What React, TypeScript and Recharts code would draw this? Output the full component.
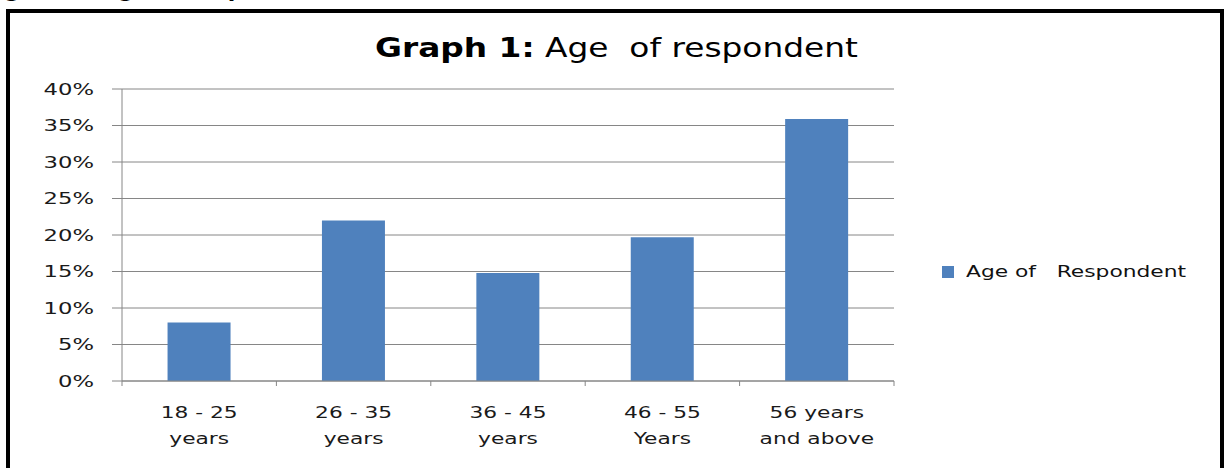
import React from "react";
import { BarChart, Bar, XAxis, YAxis, CartesianGrid, Legend } from "recharts";

// age groups (x categories) and the share of respondents in each, in %
const ageGroups = ["18 - 25 years", "26 - 35 years", "36 - 45 years", "46 - 55 Years", "56 years and above"];
const tickLines = [
  ["18 - 25", "years"],
  ["26 - 35", "years"],
  ["36 - 45", "years"],
  ["46 - 55", "Years"],
  ["56 years", "and above"],
];
const respondentShare = [8, 22, 14.8, 19.7, 35.9];
const yTicks = [0, 5, 10, 15, 20, 25, 30, 35, 40];

const seriesName = "Age of   Respondent";

const data = ageGroups.map((name, i) => ({ name, value: respondentShare[i] }));

const W = 1225;
const H = 468;
const MARGIN = { top: 89, right: 331, bottom: 27, left: 22 };
const Y_AXIS_W = 100;
const X_AXIS_H = 60;
const BAND = (W - MARGIN.left - Y_AXIS_W - MARGIN.right) / ageGroups.length;

const FONT = "'DejaVu Sans', Verdana, sans-serif";
const GRID = "#868686";
const BLUE = "#4F81BD";

function YTick({ x, y, payload }: any) {
  return (
    <g transform={`translate(${x},${y}) scale(1.42,1)`}>
      <text x={0} y={0} dy="0.36em" textAnchor="end" fontSize={16} fontFamily={FONT} fill="#1a1a1a">
        {payload.value}%
      </text>
    </g>
  );
}

function XTick({ x, y, index }: any) {
  const lines = tickLines[index] || [];
  const left = x - BAND / 2;
  const right = x + BAND / 2;
  return (
    <g>
      <line x1={left} y1={y} x2={left} y2={y + 5} stroke={GRID} />
      {index === ageGroups.length - 1 && <line x1={right} y1={y} x2={right} y2={y + 5} stroke={GRID} />}
      {lines.map((t, i) => (
        <g key={i} transform={`translate(${x},${y + 37 + i * 26}) scale(1.36,1)`}>
          <text x={0} y={0} textAnchor="middle" fontSize={16} fontFamily={FONT} fill="#1a1a1a">
            {t}
          </text>
        </g>
      ))}
    </g>
  );
}

function LegendBox({ payload }: any) {
  const item = payload && payload[0];
  return (
    <div style={{ display: "flex", alignItems: "center", fontFamily: FONT }}>
      <span style={{ width: 12, height: 12, background: item ? item.color : BLUE, display: "inline-block", marginRight: 12 }} />
      <span
        style={{
          display: "inline-block",
          fontSize: 16,
          color: "#111",
          whiteSpace: "pre",
          transform: "scaleX(1.36)",
          transformOrigin: "left center",
        }}
      >
        {item ? item.value : seriesName}
      </span>
    </div>
  );
}

export default function App() {
  return (
    <div style={{ position: "absolute", left: 0, top: 0, width: W, height: H, overflow: "hidden", background: "#fff", fontFamily: FONT }}>
      <BarChart width={W} height={H} data={data} margin={MARGIN} barCategoryGap="29.5%">
        <CartesianGrid vertical={false} stroke={GRID} />
        <XAxis
          dataKey="name"
          height={X_AXIS_H}
          interval={0}
          tickLine={false}
          tickSize={0}
          tickMargin={0}
          axisLine={{ stroke: GRID }}
          tick={<XTick />}
        />
        <YAxis
          width={Y_AXIS_W}
          domain={[0, 40]}
          ticks={yTicks}
          interval={0}
          tickSize={10}
          tickMargin={18}
          axisLine={{ stroke: GRID }}
          tickLine={{ stroke: GRID }}
          tick={<YTick />}
        />
        {/* centre/middle keeps the legend from eating into the plot area; it is then placed by hand */}
        <Legend
          layout="horizontal"
          verticalAlign="middle"
          align="center"
          content={<LegendBox />}
          wrapperStyle={{ left: 942, top: 262, width: 270, right: "auto", bottom: "auto" }}
        />
        <Bar dataKey="value" name={seriesName} fill={BLUE} isAnimationActive={false} />
      </BarChart>

      <svg width={W} height={H} style={{ position: "absolute", left: 0, top: 0, pointerEvents: "none" }}>
        {/* caption of the page above, cut off at the top */}
        <text x={-18} y={-3} fontSize={22} fontWeight="bold" fontFamily={FONT} fill="#000" style={{ whiteSpace: "pre" }}>
          Figure 1: Age of respondents
        </text>
        <rect x={8} y={11} width={1214} height={520} fill="none" stroke="#000" strokeWidth={4} />
        <text
          x={375}
          y={57}
          fontSize={27}
          fontFamily={FONT}
          fill="#000"
          textLength={483}
          lengthAdjust="spacingAndGlyphs"
          style={{ whiteSpace: "pre" }}
        >
          <tspan fontWeight="bold">Graph 1:</tspan>
          <tspan> Age  of respondent</tspan>
        </text>
      </svg>
    </div>
  );
}
